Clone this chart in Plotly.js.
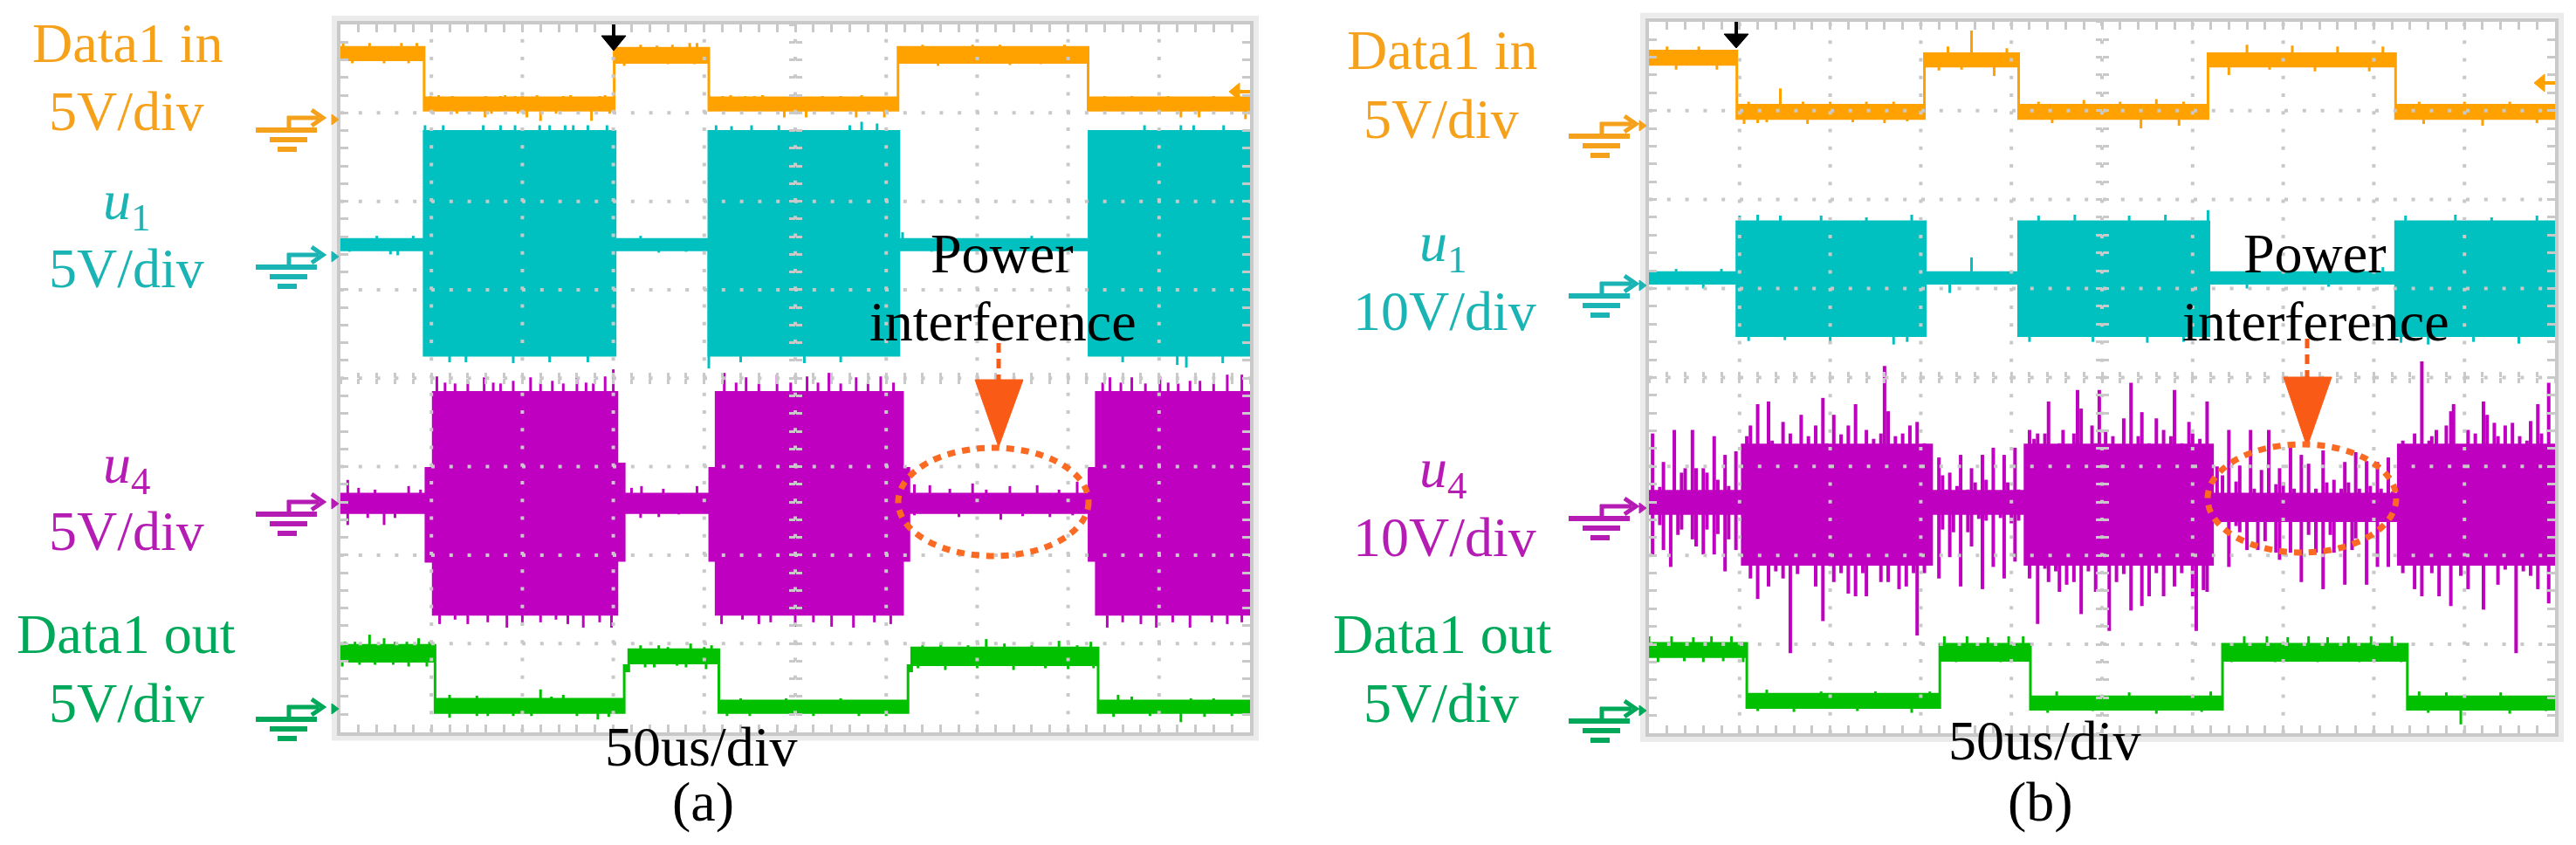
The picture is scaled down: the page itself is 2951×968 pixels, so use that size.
<!DOCTYPE html>
<html><head><meta charset="utf-8">
<script src="https://cdn.plot.ly/plotly-3.0.1.min.js"></script>
<style>html,body{margin:0;padding:0;background:#fff;}#chart{width:2951px;height:968px;}</style>
</head><body><div id="chart"></div>
<script>
// ===================== DATA (divisions: x 0..10, y 0..8) =====================
// ---- Panel (a) ----
const a_in_edges = [0, 0.92, 3.01, 4.05, 6.13, 8.22, 10];
const a_in_lo    = [7.60, 7.03, 7.57, 7.03, 7.57, 7.03];
const a_in_hi    = [7.74, 7.17, 7.73, 7.17, 7.74, 7.17];
const a_in_spikes = [[0.03,7.80],[0.13,7.56],[0.32,7.79],[0.48,7.56],[0.67,7.79],[0.75,7.56],[0.84,7.79],
 [0.99,7.19],[1.08,7.20],[1.23,7.19],[1.28,6.99],[1.59,6.95],[1.60,7.19],[1.66,6.99],[1.76,7.19],[1.81,7.20],[1.92,7.19],[1.95,6.99],[2.00,7.19],[2.05,6.95],[2.16,7.20],[2.20,6.91],[2.37,6.99],[2.45,7.19],[2.53,7.20],[2.76,6.91],[2.85,7.19],[2.91,7.20],[2.96,6.99],
 [3.12,7.53],[3.30,7.77],[3.48,7.76],[3.60,7.55],[3.65,7.77],[3.84,7.79],[3.89,7.55],[3.92,7.79],
 [4.20,7.19],[4.29,7.20],[4.45,7.19],[4.55,7.19],[4.64,7.20],[4.88,6.95],[5.12,6.95],[5.30,7.19],[5.50,7.19],[5.67,6.95],[5.73,7.20],[5.98,6.95],
 [6.40,7.77],[6.57,7.53],[6.95,7.77],[7.25,7.77],[7.36,7.54],[7.70,7.55],[7.96,7.77],
 [8.40,7.19],[8.70,7.19],[9.10,7.19],[9.24,6.95],[9.44,6.95],[9.60,7.19],[9.95,6.93]];

const a_u1_edges = [0, 0.92, 3.02, 4.05, 6.14, 8.23, 10];
const a_u1_lo    = [5.45, 4.26, 5.45, 4.26, 5.45, 4.26];
const a_u1_hi    = [5.57, 6.79, 5.57, 6.79, 5.57, 6.79];
const a_u1_spikes = [[0.10,5.43],[0.40,5.61],[0.55,5.40],[0.63,5.39],[0.80,5.61],
 [0.93,6.86],[1.13,6.86],[1.20,4.18],[1.38,4.18],[1.57,6.86],[1.76,6.86],[1.90,4.17],[1.92,6.86],[2.19,6.86],[2.30,6.86],[2.30,4.18],[2.47,6.86],[2.56,6.86],[2.72,6.86],[2.72,4.18],[2.93,6.86],
 [3.30,5.61],[3.50,5.42],[3.80,5.43],
 [4.05,4.11],[4.13,6.86],[4.30,6.85],[4.40,4.18],[4.52,6.86],[4.82,6.86],[5.10,4.17],[5.50,4.18],[5.60,6.86],[5.73,6.90],[5.90,6.88],
 [6.18,5.65],[6.50,5.43],[7.20,5.42],[7.60,5.61],[7.90,5.43],
 [8.60,4.18],[8.84,6.86],[9.20,4.15],[9.24,6.86],[9.30,4.12],[9.38,6.86],[9.70,4.17],[9.71,6.86]];

const a_u4_edges = [0, 0.94, 1.02, 3.04, 3.12, 4.06, 4.13, 6.18, 6.25, 8.23, 8.31, 10];
const a_u4_lo    = [2.48, 1.93, 1.33, 1.94, 2.48, 1.94, 1.33, 1.94, 2.48, 1.94, 1.33];
const a_u4_hi    = [2.69, 2.98, 3.84, 3.03, 2.69, 2.98, 3.84, 2.98, 2.69, 2.98, 3.84];
const a_u4_spikes = [[0.08,2.85],[0.08,2.34],[0.20,2.76],[0.30,2.42],[0.38,2.74],[0.48,2.34],[0.60,2.42],[0.75,2.78],[0.88,2.74],
 [1.06,4.02],[1.15,3.95],[1.26,3.94],[1.40,3.97],[1.58,4.01],[1.68,3.95],[1.76,3.94],[1.90,3.97],[2.09,4.01],[2.20,3.95],[2.33,3.97],[2.45,3.94],[2.60,4.01],[2.70,3.95],[2.78,3.94],[2.91,4.02],[3.00,4.10],
 [1.09,1.22],[1.26,1.27],[1.40,1.22],[1.62,1.24],[1.83,1.18],[2.00,1.24],[2.20,1.24],[2.37,1.27],[2.50,1.22],[2.67,1.18],[2.85,1.24],[2.98,1.18],
 [3.20,2.76],[3.31,2.78],[3.30,2.42],[3.50,2.43],[3.55,2.75],[3.72,2.46],[3.92,2.78],
 [4.22,4.06],[4.35,3.95],[4.46,4.01],[4.60,3.94],[4.80,4.04],[4.95,3.95],[5.13,4.02],[5.25,3.95],[5.37,4.06],[5.50,3.94],[5.67,4.01],[5.80,3.95],[5.94,4.02],[6.08,3.95],
 [4.19,1.22],[4.42,1.27],[4.60,1.22],[4.73,1.24],[5.00,1.19],[5.20,1.24],[5.40,1.19],[5.64,1.18],[5.87,1.24],[6.05,1.22],
 [6.31,2.80],[6.31,2.45],[6.48,2.79],[6.70,2.75],[6.80,2.43],[6.95,2.81],[7.10,2.74],[7.26,2.40],[7.36,2.78],[7.50,2.44],[7.66,2.79],[7.80,2.43],[7.90,2.74],[8.05,2.45],[8.10,2.83],
 [8.38,3.95],[8.46,4.01],[8.58,3.95],[8.70,4.01],[8.85,3.94],[9.01,4.02],[9.10,3.95],[9.21,3.94],[9.34,3.97],[9.45,3.97],[9.60,3.95],[9.75,4.04],[9.91,4.04],
 [8.43,1.18],[8.60,1.24],[8.80,1.22],[8.97,1.18],[9.15,1.24],[9.34,1.18],[9.58,1.24],[9.75,1.22],[9.91,1.24]];

const a_out_edges = [0, 1.04, 3.12, 3.17, 4.16, 6.24, 6.28, 8.33, 10];
const a_out_lo    = [0.80, 0.22, 0.69, 0.78, 0.22, 0.69, 0.76, 0.22];
const a_out_hi    = [0.98, 0.37, 0.75, 0.93, 0.35, 0.75, 0.95, 0.35];
const a_out_spikes = [[0.05,1.02],[0.16,1.02],[0.32,1.10],[0.48,1.06],[0.60,1.02],[0.73,1.02],[0.86,1.06],[0.98,1.02],
 [0.02,0.74],[0.21,0.76],[0.38,0.76],[0.58,0.76],[0.75,0.74],[0.95,0.74],
 [1.08,0.22],[1.20,0.16],[1.20,0.42],[1.50,0.18],[1.50,0.41],[1.62,0.18],[1.90,0.18],[2.10,0.18],[2.20,0.48],[2.32,0.40],[2.45,0.42],[2.60,0.18],[2.72,0.38],[2.83,0.14],[2.95,0.17],
 [3.30,0.98],[3.35,0.73],[3.45,0.73],[3.50,0.98],[3.60,0.96],[3.70,0.75],[3.80,0.73],[3.85,1.00],[4.00,0.96],[4.02,0.71],[4.08,0.98],
 [4.25,0.18],[4.40,0.38],[4.50,0.18],[4.90,0.38],[5.20,0.18],[5.50,0.38],[5.70,0.18],[6.00,0.18],
 [6.35,0.72],[6.40,0.98],[6.60,1.00],[6.65,0.70],[6.90,0.98],[7.00,0.72],[7.10,1.05],[7.30,1.00],[7.40,0.70],[7.60,0.98],[7.75,0.72],[7.90,1.03],[8.00,0.71],[8.10,0.98],[8.25,1.02],[8.28,0.72],
 [8.50,0.17],[8.55,0.42],[8.70,0.40],[8.90,0.18],[9.24,0.11],[9.35,0.38],[9.50,0.17],[9.60,0.38],[9.80,0.18]];

// ---- Panel (b) ----
const b_in_edges = [0, 0.97, 3.04, 4.08, 6.17, 8.24, 10];
const b_in_lo    = [7.52, 6.91, 7.50, 6.91, 7.50, 6.91];
const b_in_hi    = [7.67, 7.06, 7.64, 7.06, 7.64, 7.06];
const b_in_spikes = [[0.20,7.72],[0.30,7.46],[0.55,7.72],[0.75,7.46],
 [1.05,6.85],[1.10,7.10],[1.20,6.86],[1.30,6.87],[1.45,7.25],[1.70,7.10],[1.75,6.85],[2.00,7.10],[2.25,6.87],[2.40,7.10],[2.60,6.86],[2.70,7.10],[2.85,6.88],
 [3.20,7.45],[3.30,7.72],[3.45,7.46],[3.56,7.90],[3.81,7.39],[3.95,7.70],
 [4.30,7.10],[4.45,6.86],[4.80,7.12],[5.20,7.10],[5.43,6.80],[5.60,7.13],[5.85,6.83],[5.90,7.10],
 [6.40,7.40],[6.60,7.74],[6.85,7.46],[7.10,7.73],[7.35,7.44],[7.60,7.72],[7.95,7.44],[8.10,7.72],
 [8.50,7.10],[8.55,6.85],[9.00,7.10],[9.20,6.83],[9.50,7.10],[9.80,6.86]];

const b_u1_edges = [0, 0.97, 3.05, 4.08, 6.18, 8.24, 10];
const b_u1_lo    = [5.06, 4.47, 5.06, 4.47, 5.06, 4.47];
const b_u1_hi    = [5.18, 5.75, 5.18, 5.75, 5.18, 5.75];
const b_u1_spikes = [[0.30,5.22],[0.60,5.00],[0.80,5.22],
 [1.00,5.82],[1.10,4.41],[1.20,5.83],[1.45,5.82],[1.50,4.42],[1.90,5.82],[2.00,4.38],[2.40,5.80],[2.70,4.37],[2.85,4.40],[2.90,5.83],
 [3.32,4.95],[3.56,5.35],
 [4.20,4.40],[4.30,5.82],[4.70,5.83],[4.90,4.40],[5.30,5.82],[5.50,4.39],[5.70,5.83],[5.90,4.40],[6.17,5.88],
 [6.60,5.00],[7.50,5.02],[8.10,5.24],
 [8.30,4.39],[8.35,5.82],[8.60,4.37],[8.90,5.83],[9.10,4.40],[9.30,5.80],[9.60,4.38],[9.80,5.82]];

const b_u4_edges = [0, 1.03, 3.12, 4.15, 6.22, 8.27, 10];
const b_u4_lo    = [2.47, 1.90, 2.47, 1.90, 2.39, 1.90];
const b_u4_hi    = [2.72, 3.24, 2.72, 3.24, 2.69, 3.24];
const b_u4_spikes = [
 [0.04,3.37],[0.12,2.77],[0.16,3.05],[0.28,3.41],[0.36,2.93],[0.40,2.98],[0.48,3.41],[0.52,2.98],[0.60,2.98],[0.64,2.93],[0.72,3.34],[0.76,2.85],[0.84,3.13],[0.88,2.78],[0.96,3.17],
 [0.04,2.01],[0.12,2.34],[0.16,2.06],[0.24,1.87],[0.32,2.23],[0.36,2.29],[0.48,2.18],[0.52,2.10],[0.60,2.01],[0.64,2.29],[0.72,2.01],[0.76,2.24],[0.84,1.82],[0.88,2.18],[0.96,2.06],
 [1.08,3.34],[1.12,3.46],[1.20,3.70],[1.24,3.14],[1.32,3.73],[1.36,3.29],[1.48,3.50],[1.56,3.37],[1.60,3.18],[1.68,3.58],[1.76,3.34],[1.84,3.46],[1.92,3.77],[1.96,3.26],[2.04,3.58],[2.12,3.36],[2.20,3.46],[2.28,3.70],[2.36,3.21],[2.40,3.41],[2.48,3.31],[2.56,3.37],[2.60,4.13],[2.64,3.62],[2.72,3.34],[2.80,3.37],[2.88,3.46],[2.96,3.50],[3.04,3.26],
 [1.08,1.93],[1.12,1.74],[1.20,1.51],[1.28,1.90],[1.32,1.65],[1.40,1.82],[1.48,1.74],[1.56,0.90],[1.64,1.79],[1.76,1.93],[1.84,1.65],[1.92,1.26],[2.00,1.88],[2.04,1.70],[2.12,1.80],[2.20,1.57],[2.28,1.54],[2.36,1.80],[2.40,1.54],[2.48,1.90],[2.56,1.70],[2.64,1.70],[2.76,1.62],[2.84,1.65],[2.92,1.80],[2.96,1.10],[3.04,1.80],
 [3.20,3.10],[3.24,2.90],[3.28,2.74],[3.32,2.93],[3.40,2.78],[3.44,3.13],[3.52,2.74],[3.56,2.98],[3.60,2.82],[3.68,3.13],[3.72,2.85],[3.80,3.21],[3.85,2.70],[3.92,3.13],[3.96,2.82],[4.04,3.21],[4.08,2.74],
 [3.20,1.74],[3.24,2.29],[3.32,1.98],[3.36,2.26],[3.44,1.65],[3.52,2.26],[3.56,2.10],[3.64,2.41],[3.68,1.62],[3.72,2.39],[3.80,1.87],[3.88,2.42],[3.92,1.74],[4.00,2.36],[4.04,1.93],[4.08,2.39],
 [4.20,3.41],[4.25,3.31],[4.29,3.37],[4.37,3.37],[4.41,3.73],[4.45,3.10],[4.53,3.26],[4.57,3.41],[4.65,3.14],[4.69,3.37],[4.73,3.86],[4.77,3.65],[4.81,3.14],[4.89,3.46],[4.93,3.26],[4.97,3.86],[5.04,3.41],[5.12,3.34],[5.20,3.21],[5.24,3.54],[5.32,3.94],[5.40,3.34],[5.44,3.61],[5.52,3.26],[5.60,3.54],[5.68,3.41],[5.76,3.34],[5.80,3.86],[5.88,3.26],[5.96,3.50],[6.00,3.37],[6.08,3.31],[6.16,3.73],
 [4.20,1.74],[4.29,1.23],[4.37,1.85],[4.41,1.70],[4.49,1.82],[4.53,1.59],[4.61,1.67],[4.69,1.70],[4.77,1.34],[4.85,1.82],[4.93,1.59],[5.08,1.15],[5.16,1.70],[5.24,1.79],[5.32,1.38],[5.44,1.43],[5.52,1.54],[5.60,1.80],[5.68,1.54],[5.80,1.65],[5.88,1.80],[6.00,1.54],[6.04,1.15],[6.12,1.61],[6.16,1.59],
 [6.27,3.00],[6.33,2.90],[6.40,3.41],[6.48,2.83],[6.52,3.01],[6.56,2.70],[6.64,3.41],[6.68,2.75],[6.76,2.96],[6.84,3.41],[6.92,2.80],[6.96,2.98],[7.00,2.82],[7.08,3.24],[7.12,2.75],[7.20,3.13],[7.28,3.03],[7.36,2.75],[7.44,3.18],[7.48,2.82],[7.56,2.85],[7.64,2.75],[7.68,3.05],[7.72,2.82],[7.80,3.16],[7.84,2.75],[7.92,3.06],[7.96,2.78],[8.04,3.05],[8.08,2.75],[8.16,3.10],[8.21,2.72],
 [6.40,1.87],[6.48,2.33],[6.52,2.26],[6.60,2.06],[6.72,2.06],[6.80,2.16],[6.92,2.03],[6.96,1.95],[7.08,2.03],[7.20,1.70],[7.28,2.23],[7.36,2.03],[7.44,1.62],[7.52,2.23],[7.56,2.03],[7.68,1.67],[7.76,2.06],[7.80,2.19],[7.92,1.67],[8.04,1.87],[8.16,1.87],
 [8.32,3.29],[8.40,3.18],[8.45,3.37],[8.53,4.18],[8.61,3.29],[8.64,3.34],[8.69,3.41],[8.80,3.46],[8.85,3.62],[8.88,3.70],[8.96,3.18],[9.04,3.41],[9.12,3.37],[9.21,3.73],[9.25,3.58],[9.33,3.49],[9.37,3.34],[9.45,3.46],[9.53,3.49],[9.61,3.34],[9.69,3.29],[9.73,3.51],[9.81,3.70],[9.85,3.37],[9.93,3.94],
 [8.32,1.80],[8.45,1.62],[8.53,1.54],[8.64,1.80],[8.72,1.54],[8.85,1.43],[8.96,1.77],[9.04,1.62],[9.21,1.39],[9.29,1.90],[9.37,1.67],[9.45,1.84],[9.57,0.90],[9.65,1.82],[9.73,1.77],[9.81,1.62],[9.93,1.46]];

const b_out_edges = [0, 1.08, 3.21, 4.21, 6.33, 8.37, 10];
const b_out_lo    = [0.86, 0.29, 0.82, 0.27, 0.82, 0.27];
const b_out_hi    = [1.01, 0.44, 1.00, 0.41, 1.00, 0.41];
const b_out_spikes = [[0.00,1.09],[0.25,1.09],[0.49,1.08],[0.69,1.09],[0.91,1.09],[0.10,0.80],[0.39,0.81],[0.60,0.80],[0.82,0.81],[1.04,0.80],
 [1.20,0.25],[1.30,0.49],[1.60,0.24],[1.90,0.47],[2.30,0.25],[2.50,0.47],[2.90,0.23],[3.10,0.47],
 [3.26,1.09],[3.51,1.09],[3.74,1.08],[3.97,1.09],[4.13,1.09],[3.39,0.80],[3.60,0.81],[3.88,0.80],[4.08,0.81],
 [4.40,0.23],[4.50,0.47],[4.90,0.25],[5.30,0.46],[5.60,0.22],[6.10,0.24],[6.20,0.47],
 [6.57,1.09],[6.82,1.09],[7.05,1.08],[7.28,1.09],[7.49,1.08],[7.72,1.09],[7.97,1.09],[8.20,1.09],
 [6.43,0.80],[6.68,0.81],[6.91,0.80],[7.14,0.81],[7.38,0.80],[7.61,0.81],[7.84,0.80],[8.07,0.81],[8.30,0.80],
 [8.50,0.47],[8.60,0.23],[8.80,0.46],[8.96,0.10],[9.40,0.46],[9.50,0.22],[9.90,0.25]];

// ===================== STYLE / GEOMETRY =====================
const W = 2951, H = 968;
const px = x => x / W, py = y => 1 - y / H;
const FONT = '"Liberation Serif", "Times New Roman", Times, serif';
const GRID = '#c9c9c9';
const TR = {orange:'#FFA200', cyan:'#00C0C0', magenta:'#C000C0', green:'#00C000'};
const TX = {orange:'#F5A11C', cyan:'#1BB4B4', magenta:'#B51CB3', green:'#00A85A'};
const PA = {L:390, R:1432, T:28, B:838.5};
const PB = {L:1889, R:2927, T:24.8, B:840};
const dom = P => ({x:[px(P.L), px(P.R)], y:[py(P.B), py(P.T)]});
const DA = dom(PA), DB = dom(PB);

function band(edges, lo, hi, color, xa, ya) {
  const x = [], y = [];
  for (let i = 0; i < lo.length; i++) { x.push(edges[i], edges[i+1]); y.push(hi[i], hi[i]); }
  for (let i = lo.length - 1; i >= 0; i--) { x.push(edges[i+1], edges[i]); y.push(lo[i], lo[i]); }
  x.push(x[0]); y.push(y[0]);
  return {type:'scatter', mode:'lines', x, y, fill:'toself', fillcolor:color,
          line:{color, width:3}, xaxis:xa, yaxis:ya, hoverinfo:'skip', showlegend:false};
}
function spikes(edges, lo, hi, list, color, xa, ya, w) {
  const x = [], y = [];
  list.forEach(([sx, tip]) => {
    let i = 0; while (i < lo.length - 1 && sx >= edges[i+1]) i++;
    x.push(sx, sx, null); y.push((lo[i] + hi[i]) / 2, tip, null);
  });
  return {type:'scatter', mode:'lines', x, y, connectgaps:false, line:{color, width:w},
          xaxis:xa, yaxis:ya, hoverinfo:'skip', showlegend:false};
}
function signal(e, lo, hi, sp, color, xa, ya, w) {
  return [band(e, lo, hi, color, xa, ya), spikes(e, lo, hi, sp, color, xa, ya, w)];
}

const traces = [
  ...signal(a_in_edges, a_in_lo, a_in_hi, a_in_spikes, TR.orange, 'x', 'y', 3),
  ...signal(a_u1_edges, a_u1_lo, a_u1_hi, a_u1_spikes, TR.cyan, 'x', 'y', 3),
  ...signal(a_u4_edges, a_u4_lo, a_u4_hi, a_u4_spikes, TR.magenta, 'x', 'y', 3),
  ...signal(a_out_edges, a_out_lo, a_out_hi, a_out_spikes, TR.green, 'x', 'y', 3),
  ...signal(b_in_edges, b_in_lo, b_in_hi, b_in_spikes, TR.orange, 'x2', 'y2', 3),
  ...signal(b_u1_edges, b_u1_lo, b_u1_hi, b_u1_spikes, TR.cyan, 'x2', 'y2', 3),
  ...signal(b_u4_edges, b_u4_lo, b_u4_hi, b_u4_spikes, TR.magenta, 'x2', 'y2', 4),
  ...signal(b_out_edges, b_out_lo, b_out_hi, b_out_spikes, TR.green, 'x2', 'y2', 3),
];
// dummy traces to activate the centre-crosshair tick axes
[['x3','y'],['x4','y'],['x','y3'],['x','y4'],['x5','y2'],['x6','y2'],['x2','y5'],['x2','y6']].forEach(([xa,ya]) =>
  traces.push({type:'scatter', mode:'markers', x:[null], y:[null], xaxis:xa, yaxis:ya, hoverinfo:'skip', showlegend:false}));

const mainAx = (d, range, anchor) => ({domain:d, range, anchor, fixedrange:true, showgrid:false, zeroline:false,
  showticklabels:false, ticks:'inside', tick0:0, dtick:0.2, ticklen:9, tickwidth:3, tickcolor:GRID,
  showline:true, linewidth:4, linecolor:GRID, mirror:'ticks', layer:'above traces'});
const centerAx = (over, range, pos, dir, len) => ({overlaying:over, anchor:'free', position:pos, range, fixedrange:true,
  showgrid:false, zeroline:false, showline:false, showticklabels:false, ticks:dir, tick0:0, dtick:0.2,
  ticklen:len, tickwidth:3, tickcolor:GRID, layer:'above traces'});
const mid = a => (a[0] + a[1]) / 2;

// ---- shapes ----
const shapes = [];
function grid(xa, ya) {
  for (let i = 1; i < 10; i++) shapes.push({type:'line', xref:xa, yref:ya, x0:i, x1:i, y0:0, y1:8, layer:'above',
    line:{color:GRID, width:4, dash:'4px,16.25px'}});
  for (let j = 1; j < 8; j++) shapes.push({type:'line', xref:xa, yref:ya, x0:0, x1:10, y0:j, y1:j, layer:'above',
    line:{color:GRID, width:4, dash:'4px,16.8px'}});
}
grid('x', 'y'); grid('x2', 'y2');
function frame(P) {
  shapes.push({type:'rect', xref:'paper', yref:'paper', x0:px(P.L-7), x1:px(P.R+7), y0:py(P.B+7), y1:py(P.T-7),
    line:{color:'#ebebeb', width:6}, layer:'below'});
}
frame(PA); frame(PB);
const P = pts => 'M ' + pts.map(([x, y]) => px(x) + ' ' + py(y)).join(' L ');
function ground(L, ya, xF, color) {
  const ln = (x0, y0, x1, y1, w) => shapes.push({type:'line', xref:'paper', yref:'paper',
    x0:px(x0), y0:py(y0), x1:px(x1), y1:py(y1), line:{color, width:w}});
  ln(L, ya+14, L+70, ya+14, 6);
  ln(L+16, ya+25, L+59, ya+25, 6);
  ln(L+25, ya+36, L+47, ya+36, 6);
  ln(L+38, ya-2, L+38, ya+14, 5);
  ln(L+36, ya, L+72, ya, 5);
  shapes.push({type:'path', xref:'paper', yref:'paper', path:P([[L+64, ya-9],[L+77, ya],[L+64, ya+9]]), line:{color, width:5}});
  shapes.push({type:'path', xref:'paper', yref:'paper', path:P([[xF, ya-4],[xF+8, ya+2],[xF, ya+8]]) + ' Z',
    fillcolor:color, line:{color, width:1}});
}
ground(293, 135, 380, TX.orange); ground(293, 292, 380, TX.cyan); ground(293, 575, 380, TX.magenta); ground(293, 810, 380, TX.green);
ground(1797, 142, 1878, TX.orange); ground(1797, 325, 1878, TX.cyan); ground(1797, 580, 1878, TX.magenta); ground(1797, 812, 1878, TX.green);
function trig(x, yTop, yHead, yTip) {
  shapes.push({type:'line', xref:'paper', yref:'paper', x0:px(x), x1:px(x), y0:py(yTop), y1:py(yHead+3), line:{color:'#000', width:4}});
  shapes.push({type:'path', xref:'paper', yref:'paper', path:P([[x-14, yHead],[x+14, yHead],[x, yTip]]) + ' Z', fillcolor:'#000', line:{color:'#000', width:1}});
}
trig(703, 28, 41, 58); trig(1989, 25, 39, 55);
function trigLevel(xR, y, color) {
  shapes.push({type:'line', xref:'paper', yref:'paper', x0:px(xR-22), x1:px(xR), y0:py(y), y1:py(y), line:{color, width:4}});
  shapes.push({type:'path', xref:'paper', yref:'paper', path:P([[xR-24, y],[xR-12, y-10],[xR-12, y+10]]) + ' Z', fillcolor:color, line:{color, width:1}});
}
trigLevel(1432, 105, TR.orange); trigLevel(2927, 95, TR.orange);
const RED = '#F95B17';
function pointer(x, y0, y1, yTip) {
  shapes.push({type:'line', xref:'paper', yref:'paper', x0:px(x), x1:px(x), y0:py(y0), y1:py(y1), line:{color:RED, width:5, dash:'11px,7px'}});
  shapes.push({type:'path', xref:'paper', yref:'paper', path:P([[x-27, y1],[x+28, y1],[x, yTip]]) + ' Z', fillcolor:RED, line:{color:RED, width:1}});
}
pointer(1144, 393, 435, 512); pointer(2643, 388, 432, 512);
function ellipse(cx, cy, rx, ry) {
  shapes.push({type:'circle', xref:'paper', yref:'paper', x0:px(cx-rx), x1:px(cx+rx), y0:py(cy+ry), y1:py(cy-ry),
    line:{color:'#FA6A22', width:7, dash:'9px,8px'}});
}
ellipse(1138, 575, 109, 62); ellipse(2637, 571, 108, 62);

// ---- labels ----
const labels = [
  ['Data1 in', 146, 50, TX.orange], ['5V/div', 145, 127, TX.orange],
  ['<i>u</i><sub>1</sub>', 145, 234, TX.cyan], ['5V/div', 145, 307, TX.cyan],
  ['<i>u</i><sub>4</sub>', 145, 536, TX.magenta], ['5V/div', 145, 608, TX.magenta],
  ['Data1 out', 144, 726, TX.green], ['5V/div', 145, 805, TX.green],
  ['50us/div', 803, 855, '#000'], ['(a)', 805, 918, '#000'],
  ['Power', 1148, 290, '#000'], ['interference', 1149, 368, '#000'],
  ['Data1 in', 1653, 58, TX.orange], ['5V/div', 1651, 137, TX.orange],
  ['<i>u</i><sub>1</sub>', 1653, 282, TX.cyan], ['10V/div', 1655, 356, TX.cyan],
  ['<i>u</i><sub>4</sub>', 1653, 541, TX.magenta], ['10V/div', 1655, 615, TX.magenta],
  ['Data1 out', 1652, 726, TX.green], ['5V/div', 1651, 805, TX.green],
  ['50us/div', 2342, 848, '#000'], ['(b)', 2337, 918, '#000'],
  ['Power', 2652, 290, '#000'], ['interference', 2653, 368, '#000'],
];
const annotations = labels.map(([t, x, y, c]) => ({text:t, x:px(x), y:py(y), xref:'paper', yref:'paper',
  xanchor:'center', yanchor:'middle', showarrow:false, font:{family:FONT, size:64, color:c}}));

const layout = {
  width:W, height:H, margin:{l:0, r:0, t:0, b:0}, paper_bgcolor:'#ffffff', plot_bgcolor:'rgba(0,0,0,0)',
  showlegend:false, hovermode:false, font:{family:FONT},
  xaxis: mainAx(DA.x, [0, 10], 'y'), yaxis: mainAx(DA.y, [0, 8], 'x'),
  xaxis2: mainAx(DB.x, [0, 10], 'y2'), yaxis2: mainAx(DB.y, [0, 8], 'x2'),
  xaxis3: centerAx('x', [0, 10], mid(DA.y), 'outside', 6), xaxis4: centerAx('x', [0, 10], mid(DA.y), 'inside', 6),
  yaxis3: centerAx('y', [0, 8], mid(DA.x), 'outside', 7), yaxis4: centerAx('y', [0, 8], mid(DA.x), 'inside', 7),
  xaxis5: centerAx('x2', [0, 10], mid(DB.y), 'outside', 6), xaxis6: centerAx('x2', [0, 10], mid(DB.y), 'inside', 6),
  yaxis5: centerAx('y2', [0, 8], mid(DB.x), 'outside', 7), yaxis6: centerAx('y2', [0, 8], mid(DB.x), 'inside', 7),
  shapes, annotations,
};
Plotly.newPlot('chart', traces, layout, {staticPlot:true, displayModeBar:false});
</script></body></html>
